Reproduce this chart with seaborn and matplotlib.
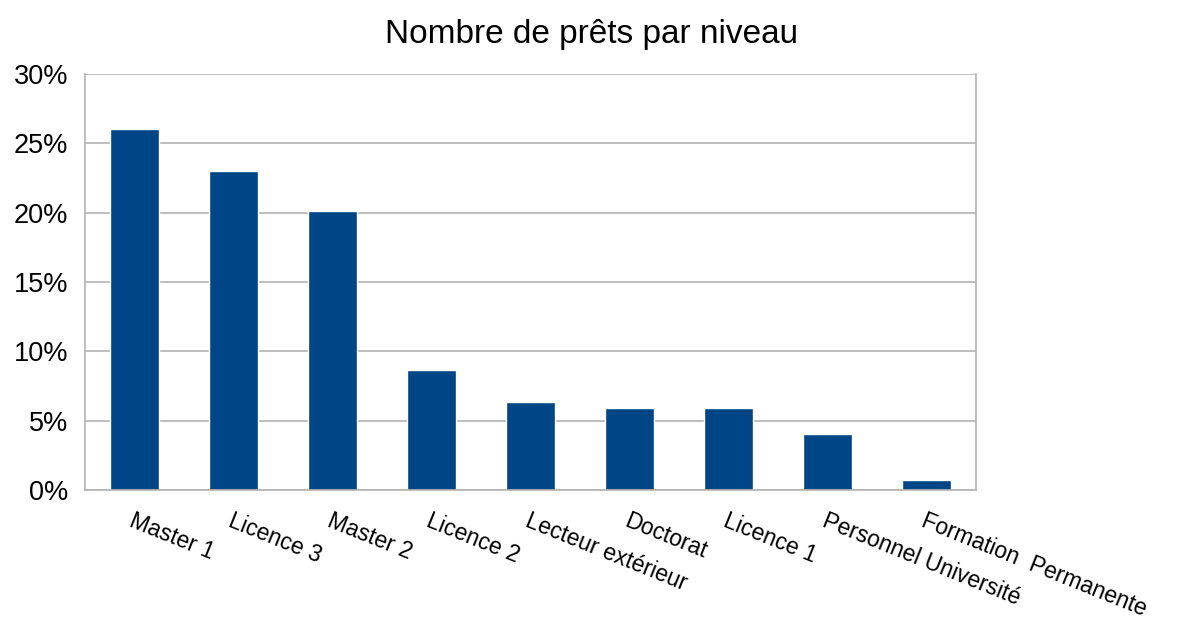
import numpy as np
import pandas as pd
import matplotlib
matplotlib.use("Agg")
import matplotlib.pyplot as plt
import seaborn as sns

# Data
niveaux = ["Master 1", "Licence 3", "Master 2", "Licence 2", "Lecteur extérieur",
           "Doctorat", "Licence 1", "Personnel Université", "Formation  Permanente"]
parts = [26.0, 23.0, 20.1, 8.65, 6.35, 5.9, 5.9, 4.05, 0.75]

df = pd.DataFrame({"niveau": niveaux, "part": parts})

sns.set_style("white")
plt.rcParams["font.family"] = ["Liberation Sans", "DejaVu Sans"]

fig = plt.figure(figsize=(11.84, 6.21), dpi=100)
ax = fig.add_axes([85 / 1184, 1 - 490 / 621, 891 / 1184, 416 / 621])

sns.barplot(data=df, x="niveau", y="part", color="#004586", width=0.5,
            saturation=1, ax=ax)

grey = "#b3b3b3"
ax.set_xlim(-0.5, len(niveaux) - 0.5)
ax.set_ylim(0, 30)
ax.set_yticks(np.arange(0, 31, 5))
ax.set_yticklabels([f"{v}%" for v in range(0, 31, 5)], fontsize=19.5, color="black")
ax.yaxis.grid(True, color=grey, linewidth=1.2)
ax.set_axisbelow(True)

ax.set_xticks(range(len(niveaux)))
ax.set_xticklabels(niveaux, rotation=-22, ha="left", rotation_mode="anchor",
                   fontsize=16.5, color="black")
ax.set_xticks(np.arange(-0.5, len(niveaux)), minor=True)
ax.tick_params(axis="x", which="major", length=0, pad=14)
ax.tick_params(axis="x", which="minor", length=8, color=grey, width=1.2)
ax.tick_params(axis="y", length=7, color=grey, width=1.2, pad=5)

for side in ["left", "right", "bottom"]:
    ax.spines[side].set_color(grey)
    ax.spines[side].set_linewidth(1.2)
ax.spines["top"].set_visible(False)

ax.set_xlabel("")
ax.set_ylabel("")
fig.suptitle("Nombre de prêts par niveau", fontsize=24, y=0.97, color="black")

fig.savefig("out.png", dpi=100)
